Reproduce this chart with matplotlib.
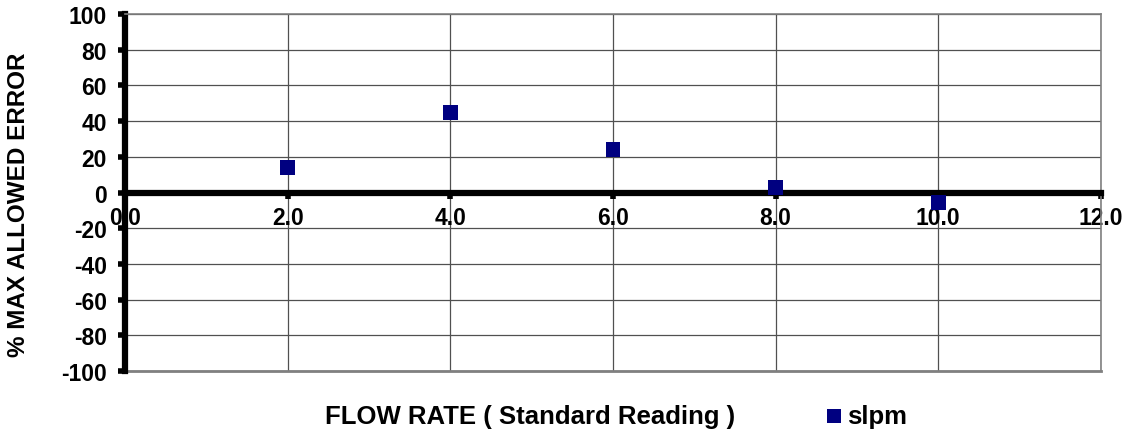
import matplotlib
matplotlib.use("Agg")
import matplotlib.pyplot as plt

# Flow rate readings and percentage of maximum allowed error
flow_rate = [2.0, 4.0, 6.0, 8.0, 10.0]
pct_error = [14, 45, 24, 3, -5.5]

x_ticks = [0.0, 2.0, 4.0, 6.0, 8.0, 10.0, 12.0]
y_ticks = [-100, -80, -60, -40, -20, 0, 20, 40, 60, 80, 100]

plt.rcParams['font.family'] = ['Liberation Sans', 'DejaVu Sans']
plt.rcParams['font.weight'] = 'bold'

fig = plt.figure(figsize=(11.28, 4.35), dpi=100)
ax = fig.add_axes([0.1108, 0.1448, 0.976 - 0.1108, 0.9655 - 0.1448])

ax.set_xlim(0, 12)
ax.set_ylim(-100, 100)

grid_color = '#505050'
for xv in x_ticks[1:]:
    ax.axvline(xv, color=grid_color, lw=0.9, zorder=1)
for yv in y_ticks:
    ax.axhline(yv, color=grid_color, lw=0.9, zorder=1)

ax.scatter(flow_rate, pct_error, marker='s', s=115, color='#000080',
           edgecolors='none', zorder=5, label='slpm')

# Axis lines: y-axis on the left, x-axis through zero
ax.spines['left'].set_linewidth(4.5)
ax.spines['left'].set_color('black')
ax.spines['bottom'].set_position(('data', 0))
ax.spines['bottom'].set_linewidth(4.5)
ax.spines['bottom'].set_color('black')
ax.spines['bottom'].set_zorder(4)
for side in ('top', 'right'):
    ax.spines[side].set_color('#808080')
    ax.spines[side].set_linewidth(1.2)
ax.axhline(-100, color='#808080', lw=2.0, zorder=2, clip_on=False)

ax.set_xticks(x_ticks)
ax.set_xticklabels([f"{v:.1f}" for v in x_ticks])
ax.set_yticks(y_ticks)
ax.set_yticklabels([str(v) for v in y_ticks])
ax.tick_params(axis='x', direction='out', length=4, width=4, pad=6,
               labelsize=16.5)
ax.tick_params(axis='y', direction='out', length=5, width=4, pad=8,
               labelsize=16.5)

fig.text(0.016, 0.529, '% MAX ALLOWED ERROR', rotation=90, ha='center',
         va='center', fontsize=17.5, fontweight='bold')
fig.text(0.470, 0.041, 'FLOW RATE ( Standard Reading )', ha='center',
         va='center', fontsize=18.5, fontweight='bold')

leg = fig.legend(loc='center left', bbox_to_anchor=(0.730, 0.041),
                 frameon=False, fontsize=18.5, handletextpad=0.1,
                 markerscale=0.95, borderpad=0, borderaxespad=0,
                 handlelength=0.8)

fig.savefig('out.png', dpi=100)
